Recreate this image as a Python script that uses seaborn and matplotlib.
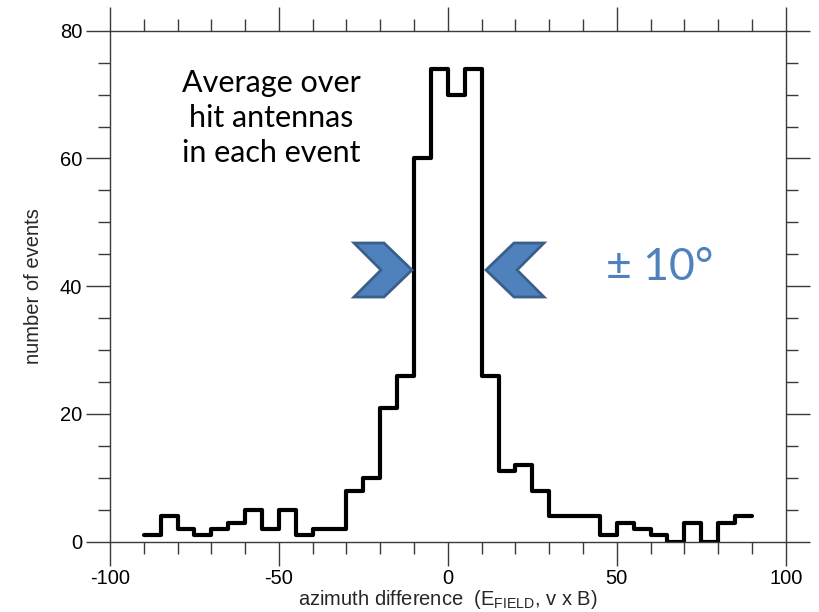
import numpy as np
import pandas as pd
import matplotlib
matplotlib.use("Agg")
import matplotlib.pyplot as plt
from matplotlib.patches import Polygon
from matplotlib.ticker import MultipleLocator
import seaborn as sns

# ---- data ----
bin_edges = [-90, -85, -80, -75, -70, -65, -60, -55, -50, -45, -40, -35, -30,
             -25, -20, -15, -10, -5, 0, 5, 10, 15, 20, 25, 30, 35, 40, 45, 50,
             55, 60, 65, 70, 75, 80, 85, 90]
counts = [1, 4, 2, 1, 2, 3, 5, 2, 5, 1, 2, 2,
          8, 10, 21, 26, 60, 74,
          70, 74, 26, 11, 12, 8,
          4, 4, 4, 1, 3, 2, 1, 0, 3, 0, 3, 4]
x_ticks = [-100, -50, 0, 50, 100]
y_ticks = [0, 20, 40, 60, 80]

centers = [(a + b) / 2 for a, b in zip(bin_edges[:-1], bin_edges[1:])]
df = pd.DataFrame({"azimuth": centers, "count": counts})

sns.set_style("ticks")
plt.rcParams["font.family"] = ["Liberation Sans", "DejaVu Sans"]
plt.rcParams["mathtext.fontset"] = "custom"
plt.rcParams["mathtext.rm"] = "Liberation Sans"
plt.rcParams["mathtext.it"] = "Liberation Sans"
plt.rcParams["axes.unicode_minus"] = False

fig = plt.figure(figsize=(8.19, 6.12), dpi=100)
ax = fig.add_axes([110 / 819, 1 - 541.7 / 612, (785.7 - 110) / 819, (541.7 - 30.7) / 612])

sns.histplot(data=df, x="azimuth", weights="count", bins=bin_edges,
             element="step", fill=False, color="black", linewidth=3.0, ax=ax)

ax.set_xlim(-100, 100)
ax.set_ylim(0, 80)
ax.set_xticks(x_ticks)
ax.set_yticks(y_ticks)
ax.xaxis.set_minor_locator(MultipleLocator(10))
ax.yaxis.set_minor_locator(MultipleLocator(5))

spine_c = "#3a3a3a"
for s in ax.spines.values():
    s.set_visible(True)
    s.set_color(spine_c)
    s.set_linewidth(1.0)
ax.tick_params(which="both", direction="out", top=True, right=True,
               color=spine_c, width=1.0, labelsize=14.5, labelcolor="black")
ax.tick_params(which="major", length=17, pad=3)
ax.tick_params(which="minor", length=8.5)

ax.set_xlabel(r"azimuth difference  ($\mathrm{E}_{\mathrm{FIELD}}$, v x B)",
              fontsize=14.5, labelpad=0)
ax.set_ylabel("number of events", fontsize=14.5, labelpad=12)

# annotation text
ax.text(271 / 819, 1 - 118 / 612, "Average over\nhit antennas\nin each event",
        transform=fig.transFigure, ha="center", va="center", fontsize=22,
        family=["Lato", "DejaVu Sans"], linespacing=1.3, color="black")

ax.text(660 / 819, 1 - 268 / 612, "\u00b1 10\u00b0", transform=fig.transFigure,
        ha="center", va="center", fontsize=32, family=["Lato", "DejaVu Sans"],
        color="#4F81BD")

# chevrons (figure pixel coords -> fraction)
def fpts(pts):
    return [(x / 819, 1 - y / 612) for x, y in pts]

left_chev = [(354, 243), (384, 243), (412, 270), (384, 297), (354, 297), (381, 270)]
right_chev = [(544, 243), (514, 243), (486, 270), (514, 297), (544, 297), (517, 270)]
for pts in (left_chev, right_chev):
    fig.patches.append(Polygon(fpts(pts), closed=True, transform=fig.transFigure,
                               facecolor="#4F81BD", edgecolor="#3A5F8B",
                               linewidth=2.0, zorder=5))

fig.savefig("out.png", dpi=100)
